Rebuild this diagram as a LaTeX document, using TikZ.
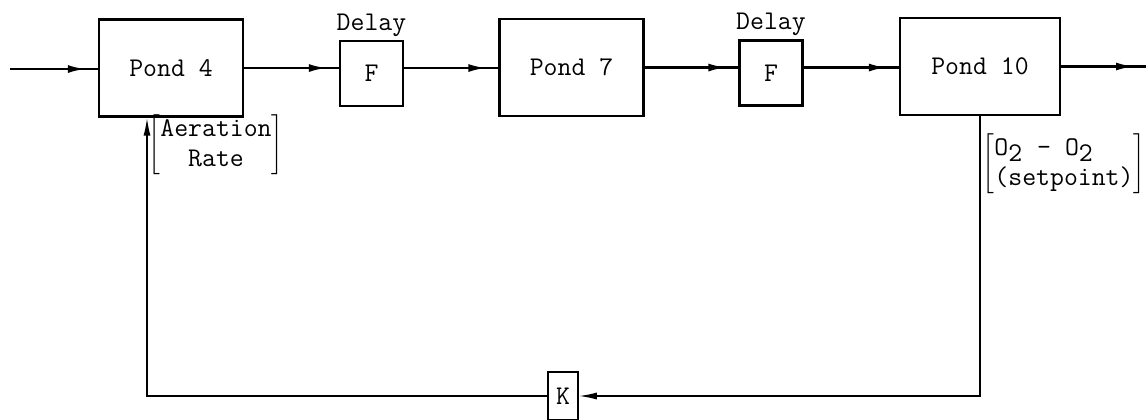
\documentclass[tikz,border=0pt]{standalone}
\usetikzlibrary{arrows.meta, positioning, calc, decorations.markings}
\tikzset{
    % Blocks
    pondBox/.style={rectangle, draw, line width=1.2pt, minimum width=72pt, minimum height=48.5pt, font=\ttfamily\fontsize{13.5}{15}\selectfont},
    delayBox/.style={rectangle, draw, line width=1.2pt, minimum width=31.5pt, minimum height=32.5pt, font=\ttfamily\fontsize{13.5}{15}\selectfont},
    gainBox/.style={rectangle, draw, line width=0.8pt, minimum width=15pt, minimum height=24pt, inner sep=0pt, font=\ttfamily\fontsize{13.5}{15}\selectfont},
    textLabel/.style={inner sep=0pt, font=\ttfamily\fontsize{13.5}{15}\selectfont},
    % Connectors
    flowLine/.style={line width=1.2pt, postaction={decorate}, decoration={markings,
        mark=at position -6pt with {\arrow{Latex[length=9pt, width=4pt]}}}},
    backArrow/.style={line width=0.8pt, -{Latex[length=9pt, width=3.5pt]}}
}
\begin{document}
\begin{tikzpicture}[x=0.5pt, y=-0.5pt]
    \useasboundingbox (0,0) rectangle (1148,419);
    % forward path
    \coordinate (in) at (10,69);
    \coordinate (out) at (1146,68);
    \node[pondBox] (p4) at (171,68) {Pond 4};
    \node[delayBox] (f1) at (371.5,73.5) {F};
    \node[pondBox] (p7) at (571.5,67.5) {Pond 7};
    \node[delayBox] (f2) at (771,73) {F};
    \node[pondBox, minimum width=80pt] (p10) at (980,66.5) {Pond 10};
    \node[textLabel, above=1.5pt of f1] (d1) {Delay};
    \node[textLabel, above=1.5pt of f2] (d2) {Delay};
    \draw[flowLine] (in) -- (in -| p4.west);
    \draw[flowLine] (p4.east) -- (p4.east -| f1.west);
    \draw[flowLine] (p4.east -| f1.east) -- (p4.east -| p7.west);
    \draw[flowLine] (p7.east) -- (p7.east -| f2.west);
    \draw[flowLine] (p7.east -| f2.east) -- (p7.east -| p10.west);
    \draw[flowLine] (p10.east) -- (p10.east -| out);
    % feedback path
    \node[gainBox] (k) at (563,396) {K};
    \coordinate (p4in) at ([xshift=-12pt]p4.south);
    \draw[backArrow] (p10.south) |- (k.east);
    \draw[backArrow] (k.west) -| (p4in);
    \node[textLabel] (aer) at (216,145) {$\left[\begin{tabular}{@{}c@{}}Aeration\\Rate\end{tabular}\right]$};
    \node[textLabel] (o2) at (1064,164) {$\left[\begin{tabular}{@{}l@{}}O$_{\texttt{2}}$ - O$_{\texttt{2}}$\\(setpoint)\end{tabular}\right]$};
\end{tikzpicture}
\end{document}
